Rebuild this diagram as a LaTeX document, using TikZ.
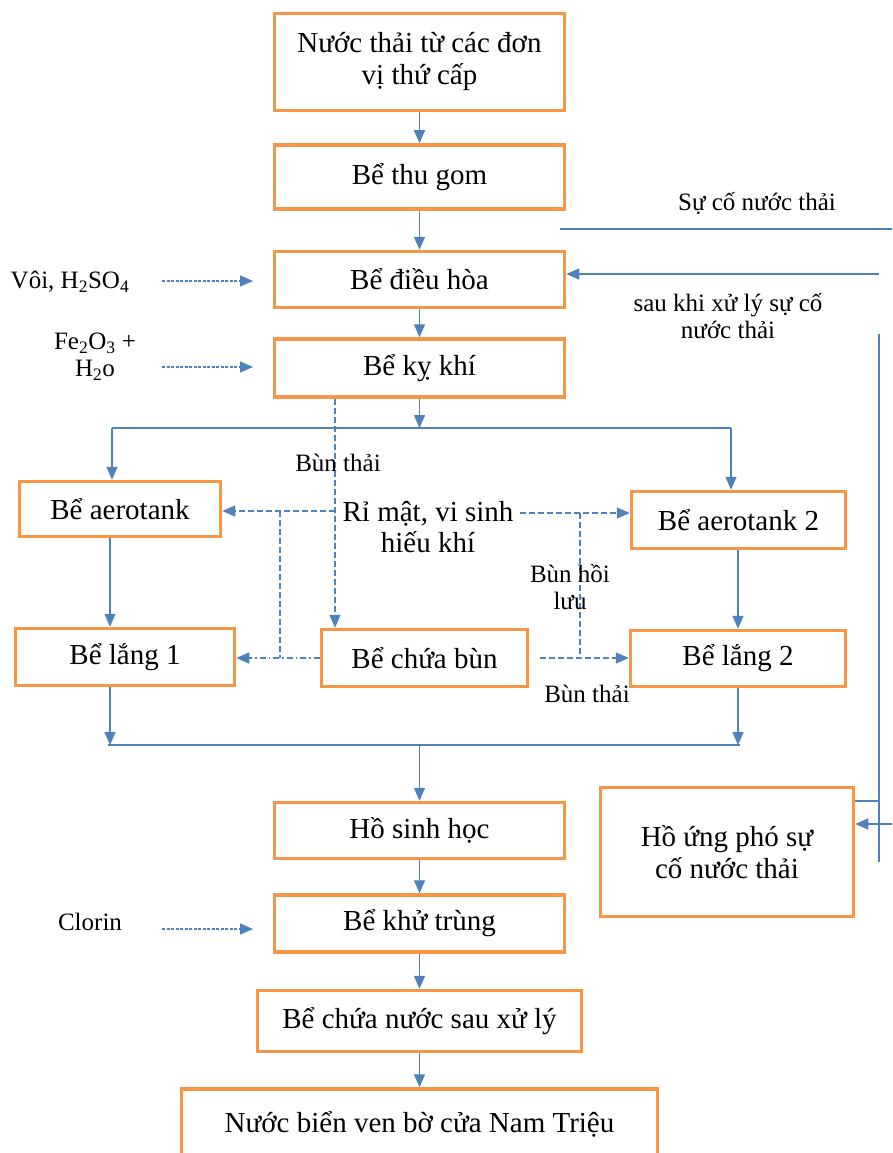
\documentclass[tikz,border=0pt]{standalone}
\usepackage{fontspec}
\setmainfont{Liberation Serif}
\usetikzlibrary{arrows.meta, positioning}
\definecolor{boxorange}{HTML}{F79646}
\definecolor{flowblue}{HTML}{4F81BD}

\begin{document}
\begin{tikzpicture}[x=1pt, y=-1pt,
  box/.style={draw=boxorange, line width=3.5pt, align=center, inner sep=2pt, font=\fontsize{29}{32}\selectfont},
  lbl/.style={align=center, inner sep=0pt, font=\fontsize{25}{27}\selectfont},
  flow/.style={draw=flowblue, line width=1.4pt},
  arr/.style={-{Triangle[length=13pt,width=11pt]}},
  sludge/.style={flow, dash pattern=on 6pt off 3pt},
  dose/.style={flow, line width=1.2pt, dash pattern=on 3pt off 1.5pt}]
  \useasboundingbox (0,0) rectangle (892,1153);

  % main line
  \node[box, minimum width=290pt, minimum height=97pt] (src) at (419.5,62) {Nước thải từ các đơn\\vị thứ cấp};
  \node[box, minimum width=290pt, minimum height=64pt, below=31pt of src] (thugom) {Bể thu gom};
  \node[box, minimum width=290pt, minimum height=56pt, below=39pt of thugom] (dieuhoa) {Bể điều hòa};
  \node[box, minimum width=290pt, minimum height=58pt, below=28pt of dieuhoa] (kykhi) {Bể kỵ khí};
  \node[box, minimum width=290pt, minimum height=56pt] (hosh) at (419.5,830.5) {Hồ sinh học};
  \node[box, minimum width=290pt, minimum height=57pt, below=33pt of hosh] (khutrung) {Bể khử trùng};
  \node[box, minimum width=324pt, minimum height=61pt, below=35pt of khutrung] (chua) {Bể chứa nước sau xử lý};
  \node[box, minimum width=476pt, minimum height=70pt, below=34pt of chua] (bien) {Nước biển ven bờ cửa Nam Triệu};

  % two branches
  \node[box, minimum width=201pt, minimum height=55pt] (aero1) at (120,509) {Bể aerotank};
  \node[box, minimum width=214pt, minimum height=57pt] (aero2) at (738.5,520) {Bể aerotank 2};
  \node[box, minimum width=219pt, minimum height=57pt] (lang1) at (125,657) {Bể lắng 1};
  \node[box, minimum width=206pt, minimum height=57pt] (bun) at (424.5,658) {Bể chứa bùn};
  \node[box, minimum width=215pt, minimum height=56pt] (lang2) at (738,658.5) {Bể lắng 2};
  \node[box, minimum width=253pt, minimum height=129pt] (ungpho) at (727,852) {Hồ ứng phó sự\\cố nước thải};

  \draw[flow, arr] (src) -- (thugom);
  \draw[flow, arr] (thugom) -- (dieuhoa);
  \draw[flow, arr] (dieuhoa) -- (kykhi);
  \coordinate (split) at (419.5,428);
  \coordinate (splitL) at (112,428);
  \coordinate (splitR) at (731,428);
  \draw[flow, arr] (kykhi) -- (split);
  \draw[flow] (splitL) -- (splitR);
  \draw[flow, arr] (splitL) -- (splitL |- aero1.north);
  \draw[flow, arr] (splitR) -- (splitR |- aero2.north);
  \coordinate (colL) at (110,0);
  \coordinate (colR) at (738,0);
  \draw[flow, arr] (aero1.south -| colL) -- (lang1.north -| colL);
  \draw[flow, arr] (aero2.south -| colR) -- (lang2.north -| colR);
  \coordinate (joinL) at (108,745);
  \coordinate (joinR) at (740,745);
  \coordinate (join) at (419.5,745);
  \draw[flow, arr] (lang1.south -| colL) -- (colL |- joinL);
  \draw[flow, arr] (lang2.south -| colR) -- (colR |- joinR);
  \draw[flow] (joinL) -- (joinR);
  \draw[flow, arr] (join) -- (hosh);
  \draw[flow, arr] (hosh) -- (khutrung);
  \draw[flow, arr] (khutrung) -- (chua);
  \draw[flow, arr] (chua) -- (bien);

  % incident loop
  \node[lbl] (suco) at (757,204) {Sự cố nước thải};
  \coordinate (scA) at (560,229);
  \coordinate (scB) at (892,229);
  \draw[flow] (scA) -- (scB);
  \coordinate (back) at (879,274);
  \draw[flow, arr] (back) -- (back -| dieuhoa.east);
  \node[lbl] (sauxl) at (728,316) {sau khi xử lý sự cố\\nước thải};
  \coordinate (vtop) at (879,334);
  \coordinate (vbot) at (879,862);
  \draw[flow] (vtop) -- (vbot);
  \coordinate (outflow) at (879,801);
  \draw[flow] (ungpho.east |- outflow) -- (outflow);
  \coordinate (inflow) at (892,824);
  \draw[flow, arr] (inflow) -- (inflow -| ungpho.east);

  % chemicals
  \node[lbl] (voi) at (70,282) {Vôi, H\textsubscript{2}SO\textsubscript{4}};
  \coordinate (voiA) at (162,281);
  \coordinate (voiB) at (253,281);
  \draw[dose, arr] (voiA) -- (voiB);
  \node[lbl] (fe) at (95,357) {Fe\textsubscript{2}O\textsubscript{3} +\\H\textsubscript{2}o};
  \coordinate (feA) at (162,367);
  \coordinate (feB) at (253,367);
  \draw[dose, arr] (feA) -- (feB);
  \node[lbl] (clorin) at (90,922) {Clorin};
  \coordinate (clA) at (162,929);
  \coordinate (clB) at (253,929);
  \draw[dose, arr] (clA) -- (clB);

  % sludge and molasses
  \coordinate (bunX) at (335,0);
  \draw[sludge, arr] (kykhi.south -| bunX) -- (bun.north -| bunX);
  \node[lbl] (bunthai1) at (338,463) {Bùn thải};
  \node[lbl, font=\fontsize{29}{31}\selectfont] (rimat) at (428,527) {Rỉ mật, vi sinh\\hiếu khí};
  \coordinate (rmL) at (335,511);
  \coordinate (rmR) at (520,513);
  \draw[sludge, arr] (rmL) -- (rmL -| aero1.east);
  \coordinate (dropL) at (280,511);
  \draw[sludge] (dropL) -- (dropL |- bun);
  \draw[flow, dash pattern=on 6pt off 3pt on 1.5pt off 3pt, arr] (bun.west) -- (bun.west -| lang1.east);
  \draw[sludge, arr] (rmR) -- (rmR -| aero2.west);
  \coordinate (dropR) at (580,513);
  \draw[sludge] (dropR) -- (dropR |- bun);
  \coordinate (bunR) at (540,658);
  \draw[sludge, arr] (bunR) -- (bunR -| lang2.west);
  \node[lbl] (hoiluu) at (570,587) {Bùn hồi\\lưu};
  \node[lbl] (bunthai2) at (587,694) {Bùn thải};
\end{tikzpicture}
\end{document}
